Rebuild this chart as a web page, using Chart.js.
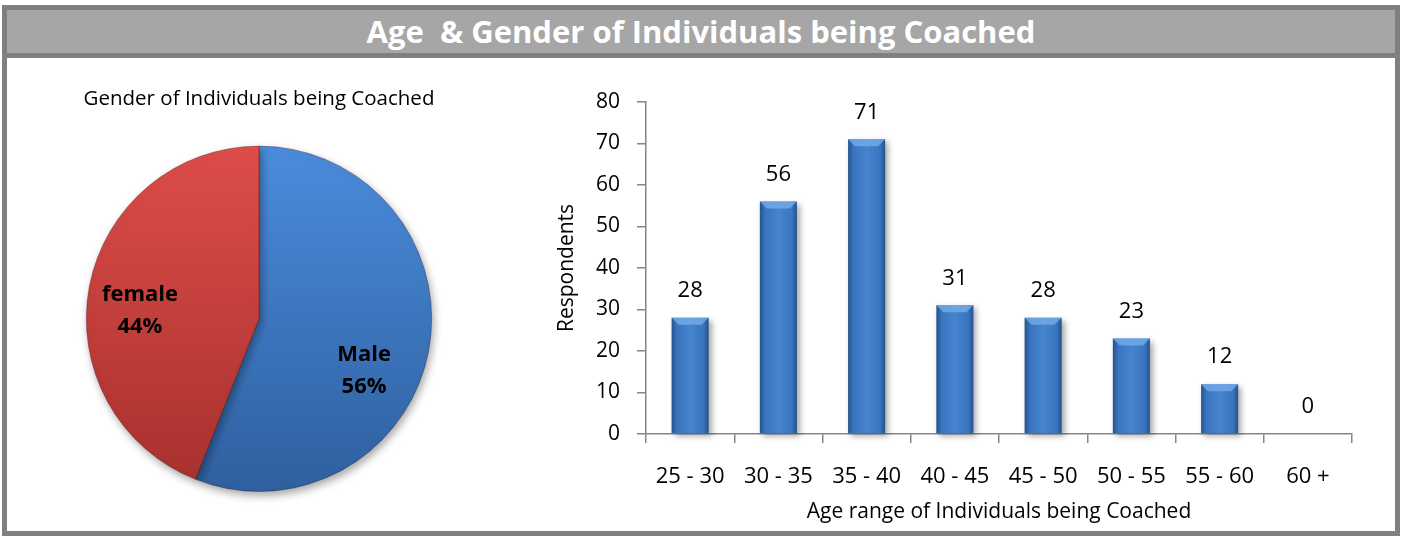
<!DOCTYPE html>
<html>
<head>
<meta charset="utf-8">
<script src="https://cdn.jsdelivr.net/npm/chart.js@4.4.0/dist/chart.umd.min.js"></script>
<style>
  html, body { margin: 0; padding: 0; background: #fff; }
  body { width: 1401px; height: 536px; position: relative; overflow: hidden; font-family: "Open Sans", sans-serif; }
  #frame { position: absolute; left: 2px; top: 5px; width: 1398px; height: 531px; box-sizing: border-box; border: 5px solid #7f7f7f; }
  #banner { position: absolute; left: 2px; top: 5px; width: 1398px; height: 53px; box-sizing: border-box;
            border: 5px solid #7f7f7f; background: #a6a6a6; color: #fff; font: bold 31px "Open Sans", sans-serif;
            text-align: center; line-height: 43px; white-space: pre; }
  #pie { position: absolute; left: 10px; top: 60px; }
  #bars { position: absolute; left: 530px; top: 60px; }
</style>
</head>
<body>
<div id="frame"></div>
<div id="banner">Age  &amp; Gender of Individuals being Coached</div>
<canvas id="pie" width="520" height="470"></canvas>
<canvas id="bars" width="862" height="470"></canvas>

<script>
// gender split (percent)
const genderLabels = ["Male", "female"];
const genderShares = [56, 44];

// age ranges
const ageRanges = ["25 - 30", "30 - 35", "35 - 40", "40 - 45", "45 - 50", "50 - 55", "55 - 60", "60 +"];
const respondents = [28, 56, 71, 31, 28, 23, 12, 0];
const yMax = 80;
const yStep = 10;

const FONT = "Open Sans";

// soft drop shadow under the marks
const softShadow = {
  id: "softShadow",
  beforeDatasetDraw(chart, args, opts) {
    const ctx = chart.ctx;
    ctx.save();
    ctx.shadowColor = "rgba(0,0,0,0.35)";
    ctx.shadowBlur = opts.blur;
    ctx.shadowOffsetX = opts.dx;
    ctx.shadowOffsetY = opts.dy;
  },
  afterDatasetDraw(chart) {
    chart.ctx.restore();
  }
};

// "female / 44%" labels inside the slices (Excel puts them a bit lower than the mid angle)
const labelNudge = [[-12, 30], [-2, 14]];
const sliceLabels = {
  id: "sliceLabels",
  afterDatasetsDraw(chart) {
    const ctx = chart.ctx;
    const meta = chart.getDatasetMeta(0);
    ctx.save();
    ctx.font = "bold 22px " + FONT;
    ctx.fillStyle = "#000";
    ctx.textAlign = "center";
    ctx.textBaseline = "middle";
    meta.data.forEach((arc, i) => {
      const p = arc.getProps(["x", "y", "startAngle", "endAngle", "outerRadius"]);
      const mid = (p.startAngle + p.endAngle) / 2;
      const r = p.outerRadius * 0.69;
      const x = p.x + Math.cos(mid) * r + labelNudge[i][0];
      const y = p.y + Math.sin(mid) * r + labelNudge[i][1];
      ctx.fillText(genderLabels[i], x, y - 16);
      ctx.fillText(genderShares[i] + "%", x, y + 16);
    });
    ctx.restore();
  }
};

// bevel on top of each bar + value above it
const barDecor = {
  id: "barDecor",
  afterDatasetsDraw(chart) {
    const ctx = chart.ctx;
    const meta = chart.getDatasetMeta(0);
    ctx.save();
    meta.data.forEach((bar, i) => {
      const { x, y, base, width } = bar.getProps(["x", "y", "base", "width"]);
      const l = x - width / 2, r = x + width / 2;
      if (base - y > 8) {
        ctx.fillStyle = "rgba(120,175,235,0.75)";
        ctx.beginPath();
        ctx.moveTo(l, y);
        ctx.lineTo(r, y);
        ctx.lineTo(r - 7, y + 7);
        ctx.lineTo(l + 7, y + 7);
        ctx.closePath();
        ctx.fill();
      }
      ctx.fillStyle = "#000";
      ctx.font = "22px " + FONT;
      ctx.textAlign = "center";
      ctx.textBaseline = "middle";
      ctx.fillText(String(respondents[i]), x, y - 27);
    });
    ctx.restore();
  }
};

const pieTops = ["#4a8cdc", "#de4d49"];
const pieBottoms = ["#2f5f9f", "#a6302d"];

function pieFill(c) {
  const i = c.dataIndex;
  const area = c.chart.chartArea;
  if (!area || !isFinite(area.top) || !isFinite(area.bottom)) return pieTops[i];
  const g = c.chart.ctx.createLinearGradient(0, area.top, 0, area.bottom);
  g.addColorStop(0, pieTops[i]);
  g.addColorStop(1, pieBottoms[i]);
  return g;
}

new Chart(document.getElementById("pie"), {
  type: "pie",
  data: {
    labels: genderLabels,
    datasets: [{
      data: genderShares,
      backgroundColor: pieFill,
      borderColor: "rgba(60,20,20,0.35)",
      borderWidth: 1,
      clip: false
    }]
  },
  options: {
    responsive: false,
    animation: false,
    layout: { padding: { left: 49, right: 71, top: 0, bottom: 38 } },
    plugins: {
      legend: { display: false },
      tooltip: { enabled: false },
      title: {
        display: true,
        text: "Gender of Individuals being Coached",
        color: "#000",
        font: { family: FONT, size: 20.5, weight: "normal" },
        padding: { top: 27, bottom: 34 }
      },
      softShadow: { blur: 8, dx: 2, dy: 4 }
    }
  },
  plugins: [softShadow, sliceLabels]
});

function barFill(c) {
  const chart = c.chart;
  const xs = chart.scales.x;
  const cx = xs ? xs.getPixelForValue(c.dataIndex) : NaN;
  const half = xs ? (xs.width / ageRanges.length) * 0.42 / 2 : NaN;
  if (!isFinite(cx) || !isFinite(half) || half <= 0) return "#3f7cc6";
  const g = chart.ctx.createLinearGradient(cx - half, 0, cx + half, 0);
  g.addColorStop(0, "#24528d");
  g.addColorStop(0.14, "#3a74bd");
  g.addColorStop(0.5, "#4584d0");
  g.addColorStop(0.86, "#3a74bd");
  g.addColorStop(1, "#24528d");
  return g;
}

new Chart(document.getElementById("bars"), {
  type: "bar",
  data: {
    labels: ageRanges,
    datasets: [{
      data: respondents,
      backgroundColor: barFill,
      categoryPercentage: 1,
      barPercentage: 0.42,
      clip: false
    }]
  },
  options: {
    responsive: false,
    animation: false,
    layout: { padding: { left: 0, right: 40, top: 42, bottom: 0 } },
    plugins: {
      legend: { display: false },
      tooltip: { enabled: false },
      softShadow: { blur: 6, dx: 3, dy: 3 }
    },
    scales: {
      x: {
        grid: { drawOnChartArea: false, tickLength: 9, color: "#868686", lineWidth: 1.5, offset: true },
        border: { color: "#868686", width: 1.5 },
        ticks: { color: "#000", font: { family: FONT, size: 22 }, padding: 21, maxRotation: 0, autoSkip: false },
        title: {
          display: true,
          text: "Age range of Individuals being Coached",
          color: "#000",
          font: { family: FONT, size: 21 },
          padding: { top: 0, bottom: 5 }
        },
        afterFit(s) { s.height = 96; }
      },
      y: {
        min: 0,
        max: yMax,
        grid: { drawOnChartArea: false, tickLength: 9, color: "#868686", lineWidth: 1.5 },
        border: { color: "#868686", width: 1.5 },
        ticks: { stepSize: yStep, color: "#000", font: { family: FONT, size: 21 }, padding: 17 },
        title: {
          display: true,
          text: "Respondents",
          color: "#000",
          font: { family: FONT, size: 21 },
          padding: { top: 24, bottom: 0 }
        },
        afterFit(s) { s.width = 116; }
      }
    }
  },
  plugins: [softShadow, barDecor]
});
</script>
</body>
</html>
